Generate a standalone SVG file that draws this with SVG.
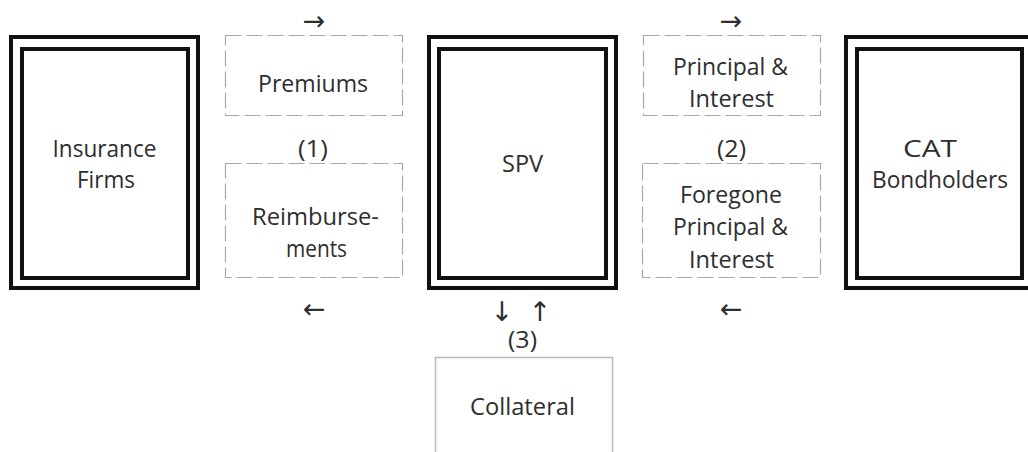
<svg xmlns="http://www.w3.org/2000/svg" width="1028" height="452" viewBox="0 0 1028 452">
<style>
.bg{fill:#fff}
.dbl{fill:none;stroke:#111;stroke-width:4}
.dash{fill:#fff;stroke:#a8a8a8;stroke-width:1.2;stroke-dasharray:16 5}
.solid{fill:#fff;stroke:#b8b8b8;stroke-width:1.5}
.t{font-family:"Open Sans","Liberation Sans",sans-serif;font-size:24px;fill:#2e2e2e;text-anchor:middle}
.a{font-family:"DejaVu Sans",sans-serif;font-size:27px;fill:#2e2e2e;text-anchor:middle}
</style>
<rect class="bg" x="0" y="0" width="1028" height="452"/>
<g id="insurance">
<rect class="dbl" x="11" y="37" width="187" height="251"/>
<rect class="dbl" x="22" y="49" width="166" height="229"/>
<text class="t" x="104.5" y="157" textLength="104" lengthAdjust="spacingAndGlyphs">Insurance</text>
<text class="t" x="106" y="188" textLength="58" lengthAdjust="spacingAndGlyphs">Firms</text>
</g>
<g id="premiums">
<rect class="dash" x="225.5" y="35.5" width="177" height="80"/>
<text class="t" x="313" y="92" textLength="110" lengthAdjust="spacingAndGlyphs">Premiums</text>
</g>
<g id="label1"><text class="t" x="313" y="157" textLength="30" lengthAdjust="spacingAndGlyphs">(1)</text></g>
<g id="reimbursements">
<rect class="dash" x="225.5" y="163.5" width="177" height="114"/>
<text class="t" x="315.5" y="225" textLength="127" lengthAdjust="spacingAndGlyphs">Reimburse-</text>
<text class="t" x="316.5" y="257" textLength="61" lengthAdjust="spacingAndGlyphs">ments</text>
</g>
<g id="spv">
<rect class="dbl" x="429" y="37" width="187" height="251"/>
<rect class="dbl" x="439" y="49" width="167" height="229"/>
<text class="t" x="522.5" y="172" textLength="41" lengthAdjust="spacingAndGlyphs">SPV</text>
</g>
<g id="principal">
<rect class="dash" x="643.5" y="35.5" width="177" height="80"/>
<text class="t" x="730.5" y="75" textLength="115" lengthAdjust="spacingAndGlyphs">Principal &amp;</text>
<text class="t" x="731.5" y="107" textLength="85" lengthAdjust="spacingAndGlyphs">Interest</text>
</g>
<g id="label2"><text class="t" x="731.5" y="157" textLength="29" lengthAdjust="spacingAndGlyphs">(2)</text></g>
<g id="foregone">
<rect class="dash" x="642.5" y="163.5" width="178" height="114"/>
<text class="t" x="731" y="203" textLength="102" lengthAdjust="spacingAndGlyphs">Foregone</text>
<text class="t" x="730.5" y="235" textLength="115" lengthAdjust="spacingAndGlyphs">Principal &amp;</text>
<text class="t" x="731.5" y="268" textLength="85" lengthAdjust="spacingAndGlyphs">Interest</text>
</g>
<g id="cat">
<rect class="dbl" x="846" y="37" width="192" height="251"/>
<rect class="dbl" x="857" y="49" width="165" height="229"/>
<text class="t" x="930" y="157" textLength="54" lengthAdjust="spacingAndGlyphs">CAT</text>
<text class="t" x="940" y="188" textLength="136" lengthAdjust="spacingAndGlyphs">Bondholders</text>
</g>
<g id="label3"><text class="t" x="522.5" y="348" textLength="29" lengthAdjust="spacingAndGlyphs">(3)</text></g>
<g id="collateral">
<rect class="solid" x="435.5" y="357.5" width="177" height="110"/>
<text class="t" x="522.5" y="415" textLength="105" lengthAdjust="spacingAndGlyphs">Collateral</text>
</g>
<g id="connectors">
<text class="a" x="314" y="30">→</text>
<text class="a" x="314" y="318">←</text>
<text class="a" x="731" y="30">→</text>
<text class="a" x="731" y="318">←</text>
<text class="a" x="502" y="321">↓</text>
<text class="a" x="540" y="321">↑</text>
</g>
</svg>
